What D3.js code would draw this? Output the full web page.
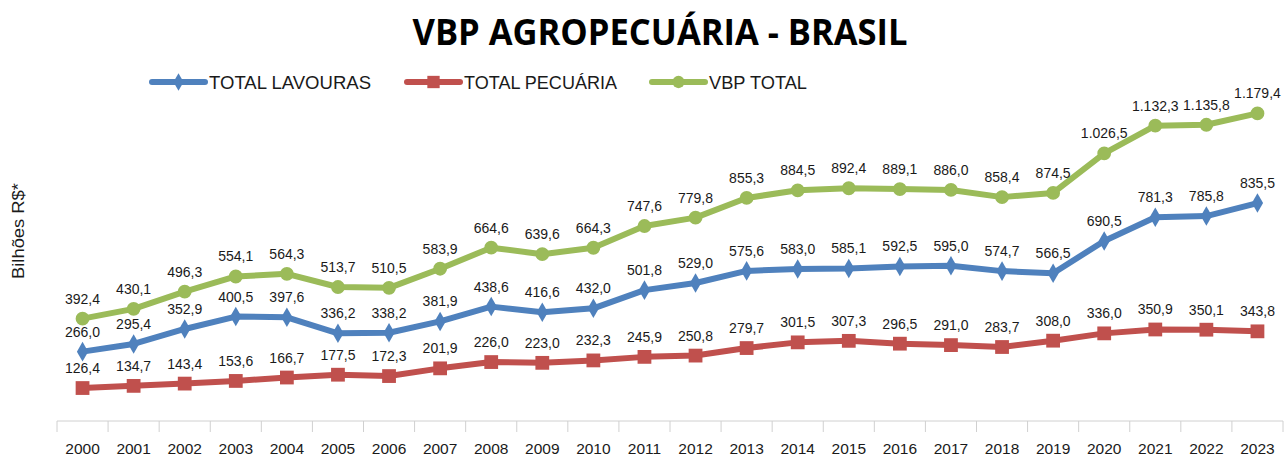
<!DOCTYPE html>
<html>
<head>
<meta charset="utf-8">
<style>
  body { margin: 0; background: #fff; }
  svg { display: block; }
  .lbl { font-family: "Liberation Sans Narrow", "Liberation Sans", sans-serif; font-size: 14px; fill: #1a1a1a; }
  .axis text { font-family: "Liberation Sans Narrow", "Liberation Sans", sans-serif; font-size: 15.5px; fill: #1a1a1a; }
  .axis .domain, .axis .tick line { stroke: #d0d0d0; }
</style>
</head>
<body>
<div id="chart"></div>
<script src="https://d3js.org/d3.v7.min.js"></script>
<script>
const years = ["2000","2001","2002","2003","2004","2005","2006","2007","2008","2009","2010","2011",
  "2012","2013","2014","2015","2016","2017","2018","2019","2020","2021","2022","2023"];
const lavouras = [266.0, 295.4, 352.9, 400.5, 397.6, 336.2, 338.2, 381.9, 438.6, 416.6, 432.0, 501.8,
  529.0, 575.6, 583.0, 585.1, 592.5, 595.0, 574.7, 566.5, 690.5, 781.3, 785.8, 835.5];
const pecuaria = [126.4, 134.7, 143.4, 153.6, 166.7, 177.5, 172.3, 201.9, 226.0, 223.0, 232.3, 245.9,
  250.8, 279.7, 301.5, 307.3, 296.5, 291.0, 283.7, 308.0, 336.0, 350.9, 350.1, 343.8];
const vbpTotal = [392.4, 430.1, 496.3, 554.1, 564.3, 513.7, 510.5, 583.9, 664.6, 639.6, 664.3, 747.6,
  779.8, 855.3, 884.5, 892.4, 889.1, 886.0, 858.4, 874.5, 1026.5, 1132.3, 1135.8, 1179.4];

const series = [
  {name: "TOTAL LAVOURAS", values: lavouras, color: "#4F81BD", symbol: d3.symbolDiamond, size: 110},
  {name: "TOTAL PECUÁRIA", values: pecuaria, color: "#C0504D", symbol: d3.symbolSquare, size: 190},
  {name: "VBP TOTAL", values: vbpTotal, color: "#9BBB59", symbol: d3.symbolCircle, size: 150}
];

const W = 1284, H = 459;
const svg = d3.select("#chart").append("svg").attr("width", W).attr("height", H);

const x = d3.scaleBand().domain(years).range([57, 1283]);
const y = d3.scaleLinear().domain([0, 1400]).range([421, 421 - 1400 * 0.2608]);

// format 1.132,3
const fmt = v => {
  const s = v.toFixed(1).split(".");
  return s[0].replace(/\B(?=(\d{3})+(?!\d))/g, ".") + "," + s[1];
};

// title
svg.append("text")
  .attr("x", 660).attr("y", 45)
  .attr("text-anchor", "middle")
  .attr("textLength", 495).attr("lengthAdjust", "spacingAndGlyphs")
  .style("font-family", "'Open Sans', sans-serif")
  .style("font-weight", "bold")
  .style("font-size", "36px")
  .style("fill", "#000")
  .text("VBP AGROPECUÁRIA - BRASIL");

// y axis title
svg.append("text")
  .attr("transform", "translate(24,231) rotate(-90)")
  .attr("text-anchor", "middle")
  .attr("textLength", 96).attr("lengthAdjust", "spacingAndGlyphs")
  .style("font-family", "'Liberation Sans', sans-serif")
  .style("font-size", "16px")
  .style("fill", "#1a1a1a")
  .text("Bilhões R$*");

// x axis with ticks at band boundaries
const xa = svg.append("g").attr("class", "axis").attr("transform", "translate(0,421)");
xa.append("line").attr("class", "domain").attr("x1", 57).attr("x2", 1283).attr("y1", 0).attr("y2", 0);
xa.selectAll("line.tk").data(years.concat(["end"]))
  .enter().append("line").attr("class", "tk")
  .attr("x1", (d, i) => 57 + i * x.bandwidth())
  .attr("x2", (d, i) => 57 + i * x.bandwidth())
  .attr("y1", 0).attr("y2", 11)
  .style("stroke", "#d0d0d0");
xa.selectAll("text").data(years).enter().append("text")
  .attr("x", d => x(d) + x.bandwidth() / 2)
  .attr("y", 33)
  .attr("text-anchor", "middle")
  .text(d => d);

const cx = d => x(d) + x.bandwidth() / 2;
const line = d3.line().x((v, i) => cx(years[i])).y(v => y(v));

series.forEach(s => {
  svg.append("path")
    .attr("d", line(s.values))
    .attr("fill", "none")
    .attr("stroke", s.color)
    .attr("stroke-width", 6)
    .attr("stroke-linejoin", "round");
  svg.selectAll(null).data(s.values).enter().append("path")
    .attr("transform", (v, i) => "translate(" + cx(years[i]) + "," + y(v) + ")")
    .attr("d", d3.symbol().type(s.symbol).size(s.size))
    .attr("fill", s.color);
  svg.selectAll(null).data(s.values).enter().append("text")
    .attr("class", "lbl")
    .attr("x", (v, i) => cx(years[i]))
    .attr("y", v => y(v) - 15)
    .attr("text-anchor", "middle")
    .text(fmt);
});

// legend
const legX = [152, 407, 652];
const legW = [162, 153, 98];
series.forEach((s, i) => {
  const g = svg.append("g").attr("transform", "translate(" + legX[i] + ",82)");
  g.append("line").attr("x1", 0).attr("x2", 53).attr("y1", 0).attr("y2", 0)
    .attr("stroke", s.color).attr("stroke-width", 6).attr("stroke-linecap", "round");
  g.append("path").attr("transform", "translate(26.5,0)")
    .attr("d", d3.symbol().type(s.symbol).size(s.size * 0.8)).attr("fill", s.color);
  g.append("text").attr("x", 57).attr("y", 7)
    .attr("textLength", legW[i]).attr("lengthAdjust", "spacingAndGlyphs")
    .style("font-family", "'Liberation Sans Narrow', 'Liberation Sans', sans-serif")
    .style("font-size", "19px").style("fill", "#1a1a1a")
    .text(s.name);
});
</script>
</body>
</html>
